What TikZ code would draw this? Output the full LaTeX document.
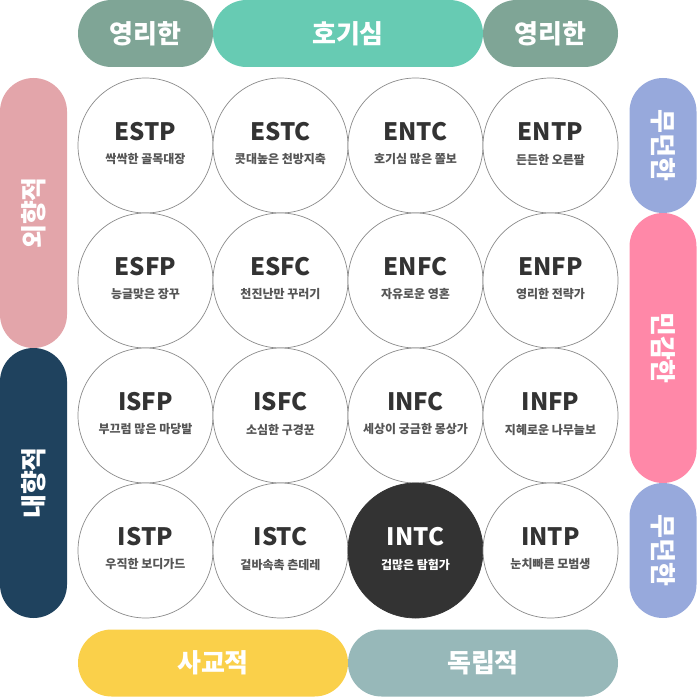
\documentclass[tikz,border=0pt]{standalone}
\usepackage{fontspec}
\setmainfont{Noto Sans CJK KR}
\newfontfamily\krfont{Noto Sans CJK KR}
\definecolor{cSmart}{HTML}{7FA596}
\definecolor{cCurious}{HTML}{67CBB3}
\definecolor{cExtro}{HTML}{E3A5AA}
\definecolor{cIntro}{HTML}{1F425E}
\definecolor{cCalm}{HTML}{97A9DC}
\definecolor{cSens}{HTML}{FF88A8}
\definecolor{cSocial}{HTML}{FAD04A}
\definecolor{cIndep}{HTML}{97B8B9}
\definecolor{cRing}{HTML}{8A8A8A}
\definecolor{cTitle}{HTML}{333333}
\definecolor{cSub}{HTML}{555555}
\definecolor{cDark}{HTML}{333333}
\tikzset{
  pill/.style={rounded corners=33.5pt, inner sep=0pt, text=white,
    font=\krfont\bfseries\fontsize{26}{26}\selectfont},
  hpill/.style={pill, minimum height=67pt},
  vpill/.style={pill, minimum width=67pt},
  ring/.style={circle, draw=cRing, line width=0.7pt, fill=white,
    minimum size=135pt, inner sep=0pt},
  darkring/.style={ring, fill=cDark, draw=cDark},
  ttl/.style={inner sep=0pt, text=cTitle,
    font=\krfont\bfseries\fontsize{24}{24}\selectfont},
  sub/.style={inner sep=0pt, text=cSub,
    font=\krfont\bfseries\fontsize{12}{12}\selectfont},
}
\newcommand\mbtiType[6]{%
  \node[#6] (#1) at (#2,#3) {};
  \node[ttl, #6-t] (#1-t) at (#2,#3-14) {#4};
  \node[sub, #6-t] (#1-s) at (#2,#3+14) {#5};
}
\tikzset{ring-t/.style={}, darkring-t/.style={text=white}}
\begin{document}
\begin{tikzpicture}[x=1pt,y=-1pt]
\useasboundingbox (0,0) rectangle (698,698);
% top
\node[hpill, fill=cSmart, minimum width=135pt] (top1) at (145.5,33.5) {영리한};
\node[hpill, fill=cCurious, minimum width=270pt] (top2) at (348,33.5) {호기심};
\node[hpill, fill=cSmart, minimum width=135pt] (top3) at (550.5,33.5) {영리한};
% left
\node[vpill, fill=cExtro, minimum height=270pt] (left1) at (33.5,213) {\rotatebox{90}{외향적}};
\node[vpill, fill=cIntro, minimum height=270pt] (left2) at (33.5,483) {\rotatebox{90}{내향적}};
% right
\node[vpill, fill=cCalm, minimum height=135pt] (right1) at (663,145.5) {\rotatebox{-90}{무던한}};
\node[vpill, fill=cSens, minimum height=270pt] (right2) at (663,348) {\rotatebox{-90}{민감한}};
\node[vpill, fill=cCalm, minimum height=135pt] (right3) at (663,550.5) {\rotatebox{-90}{무던한}};
% bottom
\node[hpill, fill=cSocial, minimum width=270pt] (bot1) at (213,663) {사교적};
\node[hpill, fill=cIndep, minimum width=270pt] (bot2) at (483,663) {독립적};
% circles
\mbtiType{estp}{145.5}{145.5}{ESTP}{싹싹한 골목대장}{ring}
\mbtiType{estc}{280.5}{145.5}{ESTC}{콧대높은 천방지축}{ring}
\mbtiType{entc}{415.5}{145.5}{ENTC}{호기심 많은 쫄보}{ring}
\mbtiType{entp}{550.5}{145.5}{ENTP}{든든한 오른팔}{ring}
\mbtiType{esfp}{145.5}{280.5}{ESFP}{능글맞은 장꾸}{ring}
\mbtiType{esfc}{280.5}{280.5}{ESFC}{천진난만 꾸러기}{ring}
\mbtiType{enfc}{415.5}{280.5}{ENFC}{자유로운 영혼}{ring}
\mbtiType{enfp}{550.5}{280.5}{ENFP}{영리한 전략가}{ring}
\mbtiType{isfp}{145.5}{415.5}{ISFP}{부끄럼 많은 마당발}{ring}
\mbtiType{isfc}{280.5}{415.5}{ISFC}{소심한 구경꾼}{ring}
\mbtiType{infc}{415.5}{415.5}{INFC}{세상이 궁금한 몽상가}{ring}
\mbtiType{infp}{550.5}{415.5}{INFP}{지혜로운 나무늘보}{ring}
\mbtiType{istp}{145.5}{550.5}{ISTP}{우직한 보디가드}{ring}
\mbtiType{istc}{280.5}{550.5}{ISTC}{겉바속촉 츤데레}{ring}
\mbtiType{intc}{415.5}{550.5}{INTC}{겁많은 탐험가}{darkring}
\mbtiType{intp}{550.5}{550.5}{INTP}{눈치빠른 모범생}{ring}
\end{tikzpicture}
\end{document}
